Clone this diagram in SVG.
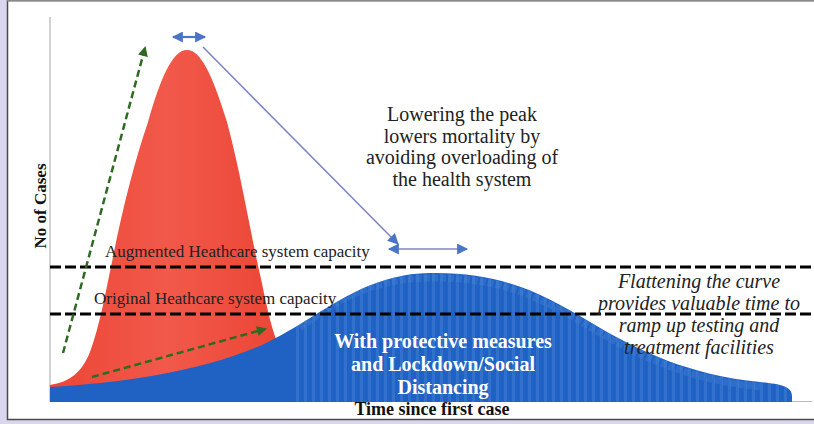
<svg xmlns="http://www.w3.org/2000/svg" width="814" height="424" viewBox="0 0 814 424">
<style>
.serif{font-family:"Liberation Serif","Times New Roman",serif}
.lbl{font-size:17px;fill:#222}
.note{font-size:20px;fill:#222;text-anchor:middle}
.it{font-style:italic}
.cap{fill:none;stroke:#000;stroke-width:3;stroke-dasharray:11 4}
.grn{fill:none;stroke:#2f6a22;stroke-width:2.5;stroke-dasharray:7 4}
.blu{fill:none;stroke:#7f84c8;stroke-width:1.6}
.bluthick{fill:none;stroke:#4a74c6;stroke-width:2.2}
</style>
<defs>
<marker id="gh" viewBox="0 0 10 10" refX="8" refY="5" markerWidth="11" markerHeight="10" orient="auto" markerUnits="userSpaceOnUse">
<path d="M0,0 L10,5 L0,10 Z" fill="#2f6a22"/>
</marker>
<marker id="bh" viewBox="0 0 10 10" refX="9" refY="5" markerWidth="12" markerHeight="11" orient="auto-start-reverse" markerUnits="userSpaceOnUse">
<path d="M0,0 L10,5 L0,10 Z" fill="#4a74c6"/>
</marker>
<linearGradient id="rg" x1="0" y1="0" x2="1" y2="0">
<stop offset="0" stop-color="#ec4535"/>
<stop offset="0.5" stop-color="#f1594a"/>
<stop offset="1" stop-color="#ec4535"/>
</linearGradient>
<pattern id="stripes" width="8" height="10" patternUnits="userSpaceOnUse">
<rect x="0" y="0" width="3" height="10" fill="#5a92dc" opacity="0.3"/>
</pattern>
<clipPath id="bclip">
<path id="bluepath" d="M50,402 L50,387 C120,383 200,372 262,345 C320,318 360,274 430,273 C500,272 540,292 590,322 C640,352 690,375 760,382 C780,384 792,386 792,396 L792,402 Z"/>
</clipPath>
</defs>

<g id="frame">
<rect x="0" y="0" width="814" height="424" fill="#d9d6ee"/>
<rect x="7.5" y="0.5" width="810" height="419" fill="#ffffff" stroke="#4a4a4a" stroke-width="1.5"/>
<line x1="7" y1="0.75" x2="814" y2="0.75" stroke="#8a8a8a" stroke-width="1.5"/>
</g>

<g id="axes">
<line x1="50" y1="17" x2="50" y2="402" stroke="#c4c4c4" stroke-width="1.5"/>
<line x1="50" y1="401.5" x2="812" y2="401.5" stroke="#b8b8b8" stroke-width="1"/>
<text class="serif" font-size="17" font-weight="bold" fill="#111" text-anchor="middle" transform="translate(46,206) rotate(-90)">No of Cases</text>
<text class="serif" font-size="18" font-weight="bold" fill="#111" text-anchor="middle" x="432" y="415">Time since first case</text>
</g>

<g id="red-curve">
<path d="M50,392 L50,385 C70,382 82,372 90,352 C100,325 106,290 112,262 C122,210 135,160 148,122 C160,80 172,50 187,50 C202,50 214,80 227,122 C240,170 250,230 259,270 C266,300 270,330 282,352 L282,392 Z" fill="url(#rg)"/>
</g>

<g id="blue-curve">
<use href="#bluepath" fill="#2062c4"/>
<g clip-path="url(#bclip)">
<rect x="292" y="260" width="500" height="145" fill="url(#stripes)"/>
<path d="M300,328 C330,305 365,279 430,278 C500,277 540,297 590,327 C640,357 690,380 760,387" fill="none" stroke="#4a86d8" stroke-width="7" stroke-dasharray="6 2" opacity="0.35"/>
</g>
<g class="serif" font-size="20" font-weight="bold" fill="#ffffff" text-anchor="middle">
<text x="443" y="348">With protective measures</text>
<text x="443" y="371">and Lockdown/Social</text>
<text x="443" y="394">Distancing</text>
</g>
</g>

<g id="capacity-lines">
<line class="cap" x1="50" y1="267" x2="814" y2="267"/>
<line class="cap" x1="50" y1="314" x2="814" y2="314"/>
</g>

<g id="augmented-label">
<text class="serif lbl" x="105" y="257">Augmented Heathcare system capacity</text>
</g>
<g id="original-label">
<text class="serif lbl" x="94" y="304">Original Heathcare system capacity</text>
</g>

<g id="peak-note">
<text class="serif note" x="462" y="121">Lowering the peak</text>
<text class="serif note" x="462" y="142.5">lowers mortality by</text>
<text class="serif note" x="462" y="164">avoiding overloading of</text>
<text class="serif note" x="462" y="185.5">the health system</text>
</g>

<g id="flatten-note">
<text class="serif note it" x="699" y="288">Flattening the curve</text>
<text class="serif note it" x="699" y="310">provides valuable time to</text>
<text class="serif note it" x="699" y="332">ramp up testing and</text>
<text class="serif note it" x="699" y="354">treatment facilities</text>
</g>

<g id="connectors">
<line class="grn" x1="63" y1="353" x2="145" y2="48" marker-end="url(#gh)"/>
<line class="grn" x1="92" y1="377" x2="265" y2="329" marker-end="url(#gh)"/>
<line class="bluthick" x1="173" y1="37" x2="205" y2="37" marker-start="url(#bh)" marker-end="url(#bh)"/>
<line class="blu" x1="203" y1="47" x2="398" y2="244" marker-end="url(#bh)"/>
<line class="blu" x1="389" y1="249" x2="467" y2="249" marker-start="url(#bh)" marker-end="url(#bh)"/>
</g>
</svg>
